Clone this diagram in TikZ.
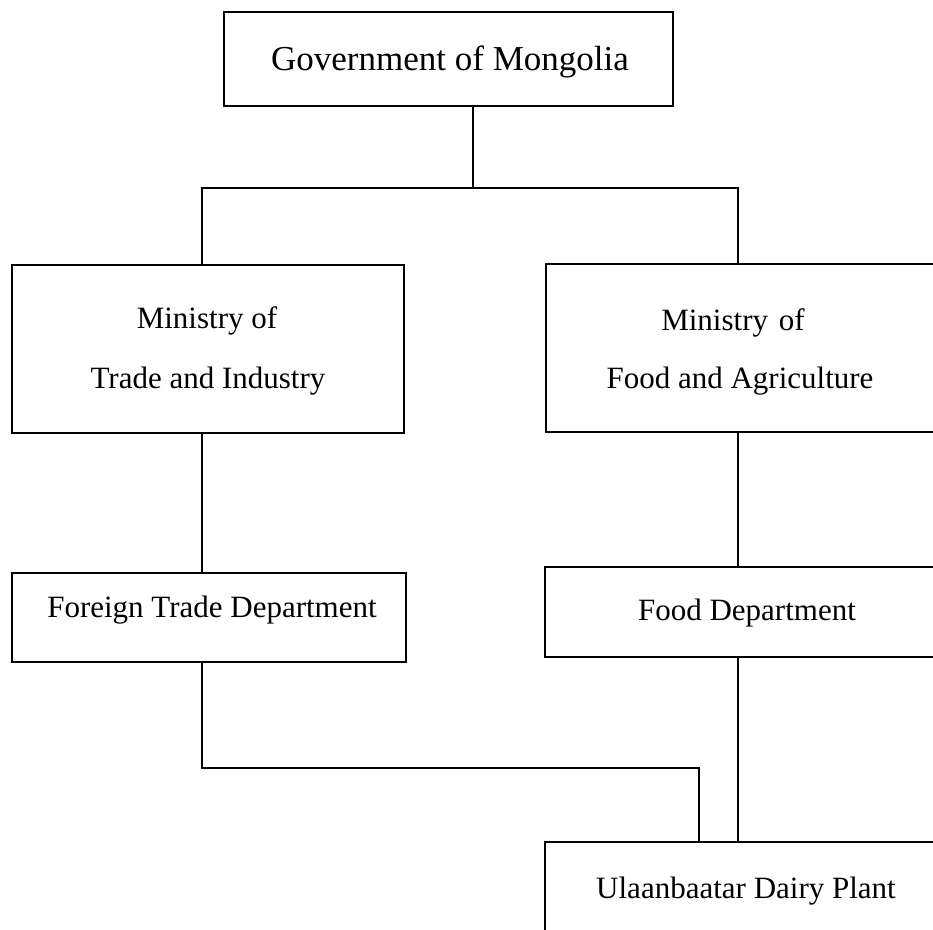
\documentclass[tikz,border=0pt]{standalone}
\usepackage{fontspec}
\setmainfont{Liberation Serif}
\begin{document}
\begin{tikzpicture}[x=1pt,y=-1pt,
  orgbox/.style={draw, line width=2.4pt, inner sep=0pt, outer sep=0pt, anchor=north west},
  lbl/.style={anchor=base, inner sep=0pt, font=\fontsize{31}{37}\selectfont},
  conn/.style={line width=2.4pt}]
\useasboundingbox (0,0) rectangle (933,929);
\clip (0,0) rectangle (933,929);
% boxes
\node[orgbox, minimum width=449pt, minimum height=94pt] (gov) at (224,12) {};
\node[orgbox, minimum width=392pt, minimum height=168pt] (mti) at (12,265) {};
\node[orgbox, minimum width=430pt, minimum height=168pt] (mfa) at (546,264) {};
\node[orgbox, minimum width=394pt, minimum height=89pt] (ftd) at (12,573) {};
\node[orgbox, minimum width=430pt, minimum height=90pt] (fd) at (545,567) {};
\node[orgbox, minimum width=430pt, minimum height=130pt] (udp) at (545,842) {};
% labels
\node[lbl, font=\fontsize{35}{40}\selectfont] (tgov) at (450,70) {Government of Mongolia};
\node[lbl] (tmti1) at (207,328) {Ministry of};
\node[lbl] (tmti2) at (208,388) {Trade and Industry};
\node[lbl] (tmfa1) at (733,330) {Ministry\hspace{0.35em}of};
\node[lbl] (tmfa2) at (740,388) {Food and Agriculture};
\node[lbl] (tftd) at (212,617) {Foreign Trade Department};
\node[lbl] (tfd) at (747,620) {Food Department};
\node[lbl] (tudp) at (746,898) {Ulaanbaatar Dairy Plant};
% junction coordinates
\coordinate (j) at (473,188);
\coordinate (jl) at (202,188);
\coordinate (jr) at (738,188);
\coordinate (bl) at (202,768);
\coordinate (br) at (699,768);
% connectors
\draw[conn] (gov.south -| j) -- (j);
\draw[conn] (mti.north -| jl) -- (jl) -- (jr) -- (mfa.north -| jr);
\draw[conn] (mti.south -| jl) -- (ftd.north -| jl);
\draw[conn] (mfa.south -| jr) -- (fd.north -| jr);
\draw[conn] (ftd.south -| bl) -- (bl) -- (br) -- (udp.north -| br);
\draw[conn] (fd.south -| jr) -- (udp.north -| jr);
\end{tikzpicture}
\end{document}
